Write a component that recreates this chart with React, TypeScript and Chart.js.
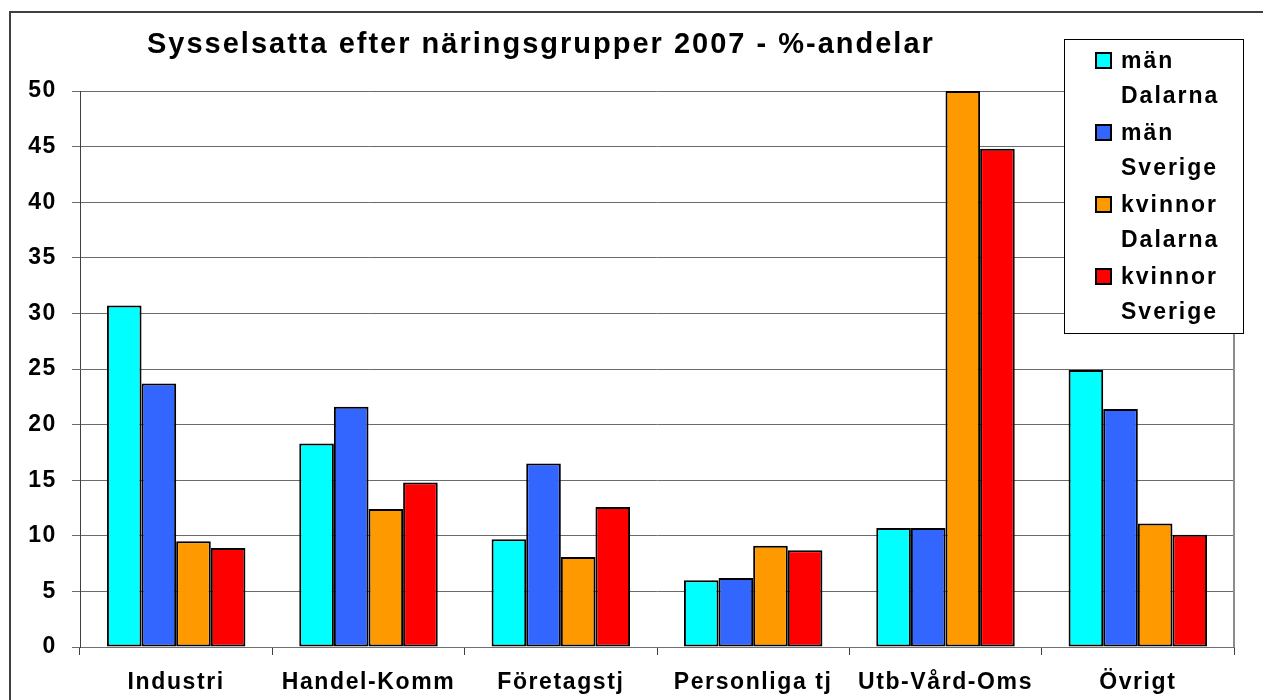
import React, { useEffect, useRef } from 'react';
import { Chart, registerables } from 'chart.js';

Chart.register(...registerables);

const categories = ['Industri', 'Handel-Komm', 'Företagstj', 'Personliga tj', 'Utb-Vård-Oms', 'Övrigt'];
const seriesLabels = ['män Dalarna', 'män Sverige', 'kvinnor Dalarna', 'kvinnor Sverige'];
const manDalarna = [30.7, 18.3, 9.7, 6.0, 10.7, 24.9];
const manSverige = [23.7, 21.6, 16.5, 6.2, 10.7, 21.4];
const kvinnorDalarna = [9.5, 12.4, 8.1, 9.1, 50.0, 11.1];
const kvinnorSverige = [8.9, 14.8, 12.6, 8.7, 44.8, 10.1];
const seriesColors = ['#00FFFF', '#3366FF', '#FF9900', '#FF0000'];
const yMin = 0;
const yMax = 50;
const yStep = 5;
const titleText = 'Sysselsatta efter näringsgrupper 2007 - %-andelar';

const FONT = '"Liberation Sans", Arial, sans-serif';

const decorPlugin = {
  id: 'decor',
  beforeDraw(chart: any) {
    const ctx = chart.ctx;
    ctx.save();
    ctx.fillStyle = '#ffffff';
    ctx.fillRect(0, 0, chart.width, chart.height);
    ctx.restore();
    ctx.letterSpacing = '1.6px';
  },
  afterDraw(chart: any) {
    const ctx = chart.ctx;
    const a = chart.chartArea;
    ctx.save();
    // right edge of plot area
    ctx.strokeStyle = '#8c8c8c';
    ctx.lineWidth = 2;
    ctx.beginPath();
    ctx.moveTo(a.right, a.top);
    ctx.lineTo(a.right, a.bottom);
    ctx.stroke();
    // outer frame
    ctx.strokeStyle = '#404040';
    ctx.lineWidth = 2;
    ctx.beginPath();
    ctx.moveTo(10, chart.height + 2);
    ctx.lineTo(10, 12);
    ctx.lineTo(chart.width + 2, 12);
    ctx.stroke();
    // title
    ctx.letterSpacing = '2px';
    ctx.font = 'bold 29px ' + FONT;
    ctx.fillStyle = '#000';
    ctx.textAlign = 'left';
    ctx.textBaseline = 'middle';
    ctx.fillText(titleText, 147, 45);
    // legend
    const lx = 1064, ly = 39, lw = 179, lh = 294;
    ctx.fillStyle = '#ffffff';
    ctx.fillRect(lx, ly, lw, lh);
    ctx.strokeStyle = '#000';
    ctx.lineWidth = 1;
    ctx.strokeRect(lx + 0.5, ly + 0.5, lw, lh);
    ctx.letterSpacing = '2px';
    ctx.font = 'bold 23px ' + FONT;
    chart.data.datasets.forEach((ds: any, i: number) => {
      const my = 53 + i * 72;
      ctx.fillStyle = ds.backgroundColor;
      ctx.fillRect(1096, my, 15, 15);
      ctx.strokeStyle = '#000';
      ctx.lineWidth = 2;
      ctx.strokeRect(1096, my, 15, 15);
      const label: string = ds.label;
      const sp = label.indexOf(' ');
      const lines = [label.slice(0, sp), label.slice(sp + 1)];
      ctx.fillStyle = '#000';
      ctx.textAlign = 'left';
      ctx.textBaseline = 'middle';
      lines.forEach((t, j) => ctx.fillText(t, 1121, my + 9 + j * 35));
    });
    ctx.restore();
  },
};

export default function App() {
  const ref = useRef<HTMLCanvasElement>(null);
  useEffect(() => {
    if (!ref.current) return;
    const seriesData = [manDalarna, manSverige, kvinnorDalarna, kvinnorSverige];
    const chart = new Chart(ref.current, {
      type: 'bar',
      data: {
        labels: categories,
        datasets: seriesData.map((d, i) => ({
          label: seriesLabels[i],
          data: d,
          backgroundColor: seriesColors[i],
          borderColor: '#000000',
          borderWidth: 2,
          borderSkipped: false,
          categoryPercentage: 0.72,
          barPercentage: 1,
        })),
      },
      options: {
        responsive: false,
        animation: false,
        layout: { padding: { left: 0, top: 91, right: 29, bottom: 0 } },
        plugins: {
          legend: { display: false },
          title: { display: false },
          tooltip: { enabled: false },
        },
        scales: {
          x: {
            grid: {
              drawOnChartArea: false,
              drawTicks: true,
              tickLength: 8,
              color: '#404040',
              offset: true,
            },
            border: { display: true, color: '#707070', width: 1 },
            ticks: {
              color: '#000',
              padding: 14,
              font: { family: FONT, size: 23, weight: 'bold' },
              maxRotation: 0,
              autoSkip: false,
            },
            afterFit: (s: any) => { s.height = 53; },
          },
          y: {
            min: yMin,
            max: yMax,
            ticks: {
              stepSize: yStep,
              color: '#000',
              padding: 15,
              font: { family: FONT, size: 23, weight: 'bold' },
            },
            grid: { color: '#6a6a6a', lineWidth: 1, tickLength: 8 },
            border: { display: true, color: '#404040', width: 1 },
            afterFit: (s: any) => { s.width = 80; },
          },
        },
      },
      plugins: [decorPlugin],
    });
    return () => chart.destroy();
  }, []);
  return (
    <div style={{ position: 'absolute', left: 0, top: 0, width: 1263, height: 700 }}>
      <canvas ref={ref} width={1263} height={700} style={{ display: 'block', width: 1263, height: 700 }} />
    </div>
  );
}
